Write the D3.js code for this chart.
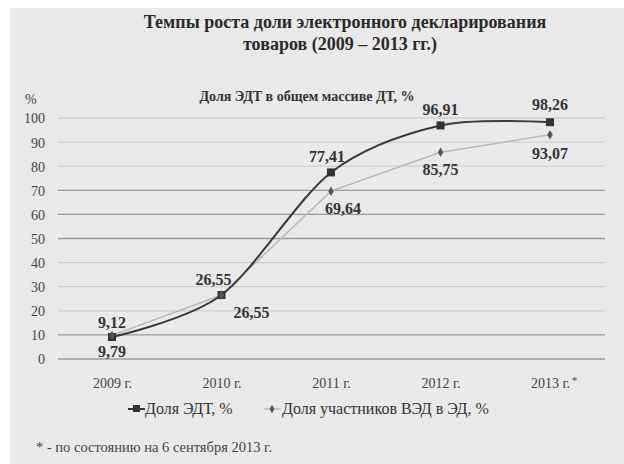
<!DOCTYPE html>
<html><head><meta charset="utf-8">
<script src="https://cdn.jsdelivr.net/npm/d3@7"></script>
<style>body{margin:0;background:#fff;}svg{display:block;}</style>
</head><body>
<script>
const categories = ["2009 г.", "2010 г.", "2011 г.", "2012 г.", "2013 г."];
const edtValues = [9.12, 26.55, 77.41, 96.91, 98.26];
const vedValues = [9.79, 26.55, 69.64, 85.75, 93.07];
const yTicks = [0,10,20,30,40,50,60,70,80,90,100];
const darkGrid = [0,10,50,60,70];
const seriesNames = ["Доля ЭДТ, %", "Доля участников ВЭД в ЭД, %"];

const W=624,H=464;
const svg=d3.select("body").append("svg").attr("width",W).attr("height",H);
svg.append("rect").attr("x",10).attr("y",8).attr("width",W-10).attr("height",H-8).attr("fill","#e9e9e9");
const serif="'Liberation Serif','Times New Roman',serif";

svg.append("text").attr("x",345).attr("y",28).attr("text-anchor","middle").attr("font-family",serif)
  .attr("font-weight","bold").attr("font-size",18).attr("fill","#2a2a2a").text("Темпы роста доли электронного декларирования");
svg.append("text").attr("x",340).attr("y",50).attr("text-anchor","middle").attr("font-family",serif)
  .attr("font-weight","bold").attr("font-size",18).attr("fill","#2a2a2a").text("товаров (2009 – 2013 гг.)");
svg.append("text").attr("x",307).attr("y",101).attr("text-anchor","middle").attr("font-family",serif)
  .attr("font-weight","bold").attr("font-size",14).attr("fill","#333").text("Доля ЭДТ в общем массиве ДТ, %");
svg.append("text").attr("x",25).attr("y",104).attr("font-family",serif).attr("font-size",14).attr("fill","#444").text("%");

const x=d3.scalePoint().domain(categories).range([112,550]);
const y=d3.scaleLinear().domain([0,100]).range([359,118]);

const g=svg.append("g");
g.selectAll("line.grid").data(yTicks).join("line").attr("class","grid")
  .attr("x1",58).attr("x2",605).attr("y1",d=>y(d)).attr("y2",d=>y(d))
  .attr("stroke",d=>darkGrid.includes(d)?"#9a9a9a":"#cfcfcf").attr("stroke-width",1.3);

const yAxis=d3.axisLeft(y).tickValues(yTicks).tickSize(0).tickPadding(0);
const ya=svg.append("g").attr("transform","translate(45,0)").call(yAxis);
ya.select(".domain").remove();
ya.selectAll("text").attr("font-family",serif).attr("font-size",14).attr("fill","#444").attr("dy","0.35em");

const xAxis=d3.axisBottom(x).tickSize(0).tickPadding(0);
const xa=svg.append("g").attr("transform","translate(0,375)").call(xAxis);
xa.select(".domain").remove();
xa.selectAll("text").attr("font-family",serif).attr("font-size",14).attr("fill","#444").attr("dy","0.9em")
  .text(d=>d);
xa.selectAll(".tick").filter(d=>d==="2013 г.").append("text").attr("x",24).attr("y",-1).attr("dy","0.9em")
  .attr("font-family",serif).attr("font-size",11).attr("fill","#444").text("*");

const ptsE=categories.map((c,i)=>[x(c),y(edtValues[i])]);
const ptsV=categories.map((c,i)=>[x(c),y(vedValues[i])]);
svg.append("path").attr("d",d3.line().curve(d3.curveLinear)(ptsV)).attr("fill","none").attr("stroke","#b8b8b8").attr("stroke-width",1.5);
svg.append("path").attr("d",d3.line().curve(d3.curveCardinal.tension(0.1))(ptsE)).attr("fill","none").attr("stroke","#3a3a3a").attr("stroke-width",2);

svg.selectAll("rect.mE").data(ptsE).join("rect").attr("class","mE").attr("x",d=>d[0]-4).attr("y",d=>d[1]-4)
  .attr("width",8).attr("height",8).attr("fill","#333");
svg.selectAll("path.mV").data(ptsV).join("path").attr("class","mV").attr("transform",d=>`translate(${d[0]},${d[1]})`)
  .attr("d",d3.symbol(d3.symbolDiamond,26)).attr("fill","#555");

const fmt=v=>v.toFixed(2).replace(".",",");
const labelE=[[0,-9],[-8,-10],[-4,-10],[0,-10],[0,-12]];
const labelV=[[0,22],[30,23],[12,23],[0,23],[0,24]];
svg.selectAll("text.lE").data(edtValues).join("text").attr("class","lE")
  .attr("x",(d,i)=>x(categories[i])+labelE[i][0]).attr("y",(d,i)=>y(d)+labelE[i][1])
  .attr("text-anchor","middle").attr("font-family",serif).attr("font-weight","bold").attr("font-size",16).attr("fill","#333").text(fmt);
svg.selectAll("text.lV").data(vedValues).join("text").attr("class","lV")
  .attr("x",(d,i)=>x(categories[i])+labelV[i][0]).attr("y",(d,i)=>y(d)+labelV[i][1])
  .attr("text-anchor","middle").attr("font-family",serif).attr("font-weight","bold").attr("font-size",16).attr("fill","#333").text(fmt);

// legend
const lg=svg.append("g").attr("transform","translate(0,414)");
lg.append("line").attr("x1",128).attr("x2",145).attr("y1",-5).attr("y2",-5).attr("stroke","#333").attr("stroke-width",2);
lg.append("rect").attr("x",133).attr("y",-9).attr("width",7).attr("height",7).attr("fill","#333");
lg.append("text").attr("x",145).attr("y",0).attr("font-family",serif).attr("font-size",16).attr("fill","#333").text(seriesNames[0]);
lg.append("line").attr("x1",264).attr("x2",281).attr("y1",-5).attr("y2",-5).attr("stroke","#b8b8b8").attr("stroke-width",1.5);
lg.append("path").attr("transform","translate(272,-5)").attr("d",d3.symbol(d3.symbolDiamond,22)).attr("fill","#555");
lg.append("text").attr("x",282).attr("y",0).attr("font-family",serif).attr("font-size",16).attr("fill","#333").text(seriesNames[1]);

svg.append("text").attr("x",36).attr("y",452).attr("font-family",serif).attr("font-size",14.5).attr("fill","#444")
  .text("* - по состоянию на 6 сентября 2013 г.");
</script>
</body></html>
